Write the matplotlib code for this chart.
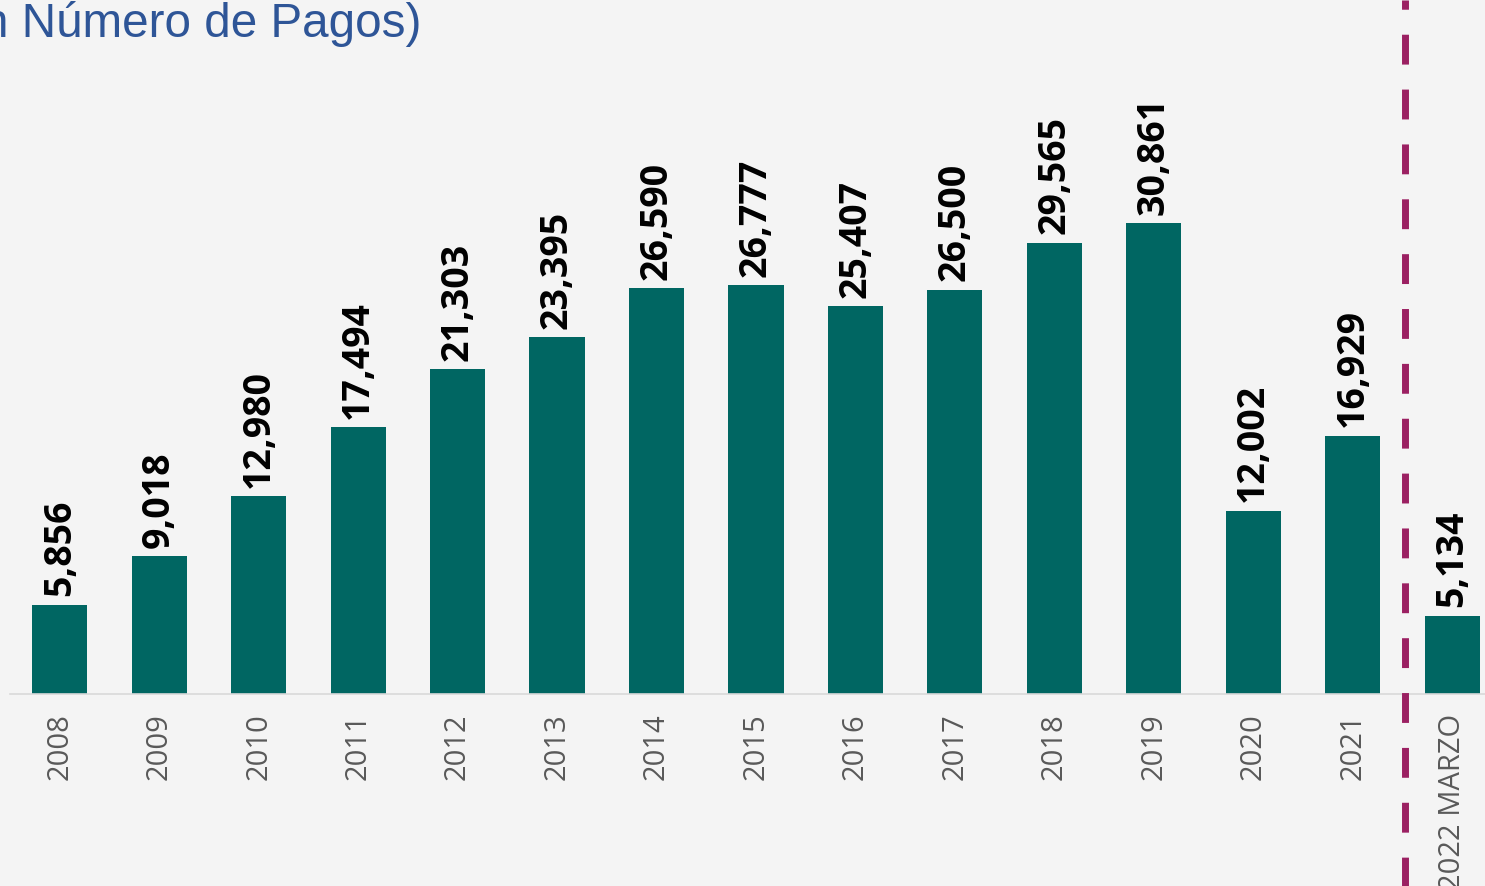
import matplotlib.pyplot as plt

# Data
years = ['2008', '2009', '2010', '2011', '2012', '2013', '2014', '2015',
         '2016', '2017', '2018', '2019', '2020', '2021', '2022 MARZO']
pagos = [5856, 9018, 12980, 17494, 21303, 23395, 26590, 26777,
         25407, 26500, 29565, 30861, 12002, 16929, 5134]

bar_color = '#006662'
line_color = '#9B2062'

W, H = 1485, 886
fig = plt.figure(figsize=(14.85, 8.86), dpi=100)
fig.patch.set_facecolor('#F4F4F4')

ax = fig.add_axes([10 / W, (H - 694) / H, 1 - 10 / W, 694 / H])
ax.set_facecolor('none')

x = list(range(len(years)))
ax.bar(x, pagos, width=0.555, color=bar_color, zorder=2)

# Value labels above bars
for xi, v in zip(x, pagos):
    ax.annotate(f'{v:,}', (xi, v), xytext=(0, 6), textcoords='offset points',
                rotation=90, ha='center', va='bottom', fontsize=27,
                fontweight='bold', family='Open Sans', color='black')

ax.set_xlim(-0.5, 14.33)
ax.set_ylim(0, 45470)

ax.set_xticks(x)
ax.set_xticklabels(years, rotation=90, fontsize=21, family='Open Sans',
                   color='#595959', va='top')
ax.tick_params(axis='x', length=0, pad=14)
ax.set_yticks([])

for s in ['top', 'right', 'left']:
    ax.spines[s].set_visible(False)
ax.spines['bottom'].set_color('#D9D9D9')
ax.spines['bottom'].set_linewidth(1.2)

# Dashed separator before the partial year
ax.axvline(13.53, ymin=-0.3, ymax=1.0, color=line_color, linewidth=5,
           dashes=(4.3, 3.6), clip_on=False, zorder=3)

# Title (cut off on the left as in the source)
fig.text(-18 / W, 1 - 37 / H, 'n Número de Pagos)', fontsize=34.3,
         family='Liberation Sans', color='#2E5597', ha='left', va='baseline')

plt.savefig('out.png', dpi=100, facecolor=fig.get_facecolor())
